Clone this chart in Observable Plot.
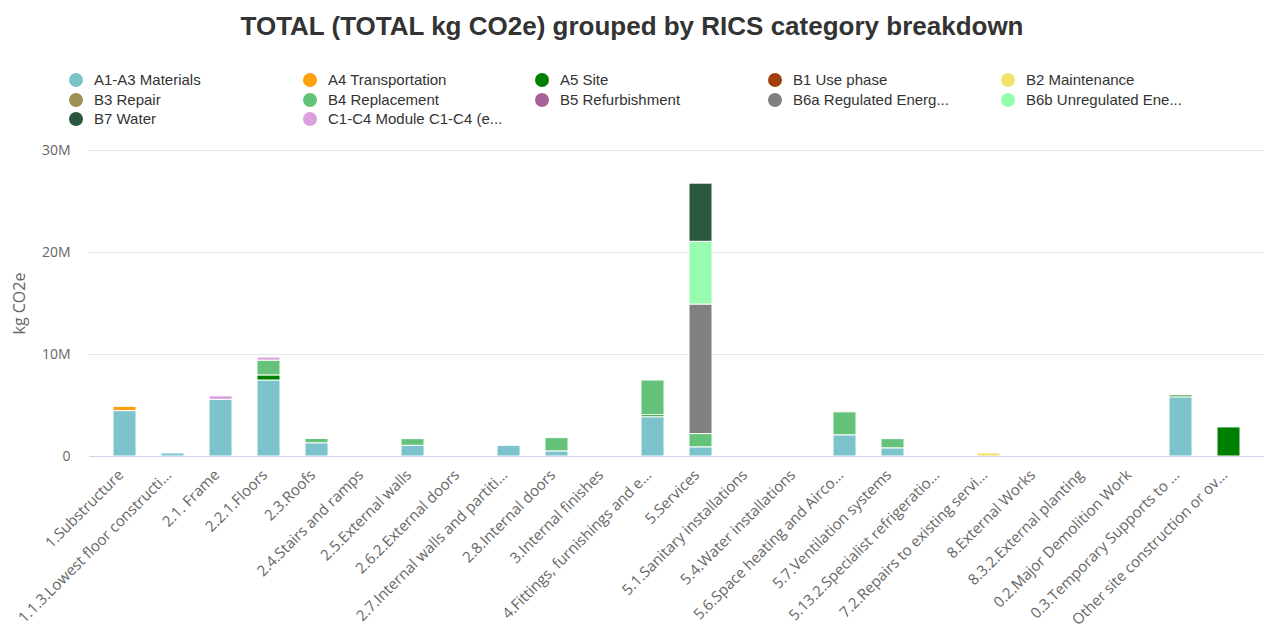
<!DOCTYPE html>
<html>
<head>
<meta charset="utf-8">
<script src="https://cdn.jsdelivr.net/npm/d3@7"></script>
<script src="https://cdn.jsdelivr.net/npm/@observablehq/plot@0.6"></script>
<style>
  html, body { margin: 0; padding: 0; background: #fff; }
  #title { height: 52px; font: bold 26px "Liberation Sans", Arial, sans-serif; line-height: 52px; text-align: center; color: #333; }
  #legend { position: relative; height: 88px; font: 15px "Liberation Sans", Arial, sans-serif; color: #333; }
  .item { position: absolute; height: 20px; line-height: 20px; white-space: nowrap; }
  .dot { position: absolute; left: 0; top: 3px; width: 14px; height: 14px; border-radius: 50%; }
  .lbl { position: absolute; left: 25px; top: 0; }
  svg { display: block; }
</style>
</head>
<body>
<div id="title">TOTAL (TOTAL kg CO2e) grouped by RICS category breakdown</div>
<div id="legend"></div>
<div id="chart"></div>
<script>
const categories = [
  "1.Substructure", "1.1.3.Lowest floor constructi...", "2.1. Frame", "2.2.1.Floors", "2.3.Roofs",
  "2.4.Stairs and ramps", "2.5.External walls", "2.6.2.External doors", "2.7.Internal walls and partiti...",
  "2.8.Internal doors", "3.Internal finishes", "4.Fittings, furnishings and e...", "5.Services",
  "5.1.Sanitary installations", "5.4.Water installations", "5.6.Space heating and Airco...",
  "5.7.Ventilation systems", "5.13.2.Specialist refrigeratio...", "7.2.Repairs to existing servi...",
  "8.External Works", "8.3.2.External planting", "0.2.Major Demolition Work",
  "0.3.Temporary Supports to ...", "Other site construction or ov..."
];

const seriesNames = [
  "A1-A3 Materials", "A4 Transportation", "A5 Site", "B1 Use phase", "B2 Maintenance",
  "B3 Repair", "B4 Replacement", "B5 Refurbishment", "B6a Regulated Energ...",
  "B6b Unregulated Ene...", "B7 Water", "C1-C4 Module C1-C4 (e..."
];

const seriesColors = [
  "#7cc3cc", "#ffa00f", "#008000", "#a0410d", "#efe36a",
  "#9c9150", "#65c27a", "#a8609b", "#808080",
  "#98fcb0", "#2b5741", "#dca0de"
];

// values in kg CO2e, one per category
const a1a3Materials   = [4450000, 300000, 5550000, 7450000, 1300000, 0, 1050000, 0, 1050000, 500000, 0, 3850000, 900000, 0, 0, 2080000, 800000, 0, 0, 0, 0, 0, 5800000, 0];
const a4Transport     = [420000, 0, 0, 0, 0, 0, 0, 0, 0, 0, 0, 0, 0, 0, 0, 0, 0, 0, 0, 0, 0, 0, 0, 0];
const a5Site          = [0, 0, 0, 500000, 0, 0, 0, 0, 0, 0, 0, 200000, 0, 0, 0, 0, 0, 0, 0, 0, 0, 0, 180000, 2850000];
const b1UsePhase      = [0, 0, 0, 0, 0, 0, 0, 0, 0, 0, 0, 0, 0, 0, 0, 0, 0, 0, 0, 0, 0, 0, 0, 0];
const b2Maintenance   = [0, 0, 0, 0, 0, 0, 0, 0, 0, 0, 0, 0, 0, 0, 0, 0, 0, 0, 300000, 0, 0, 0, 0, 0];
const b3Repair        = [0, 0, 0, 0, 0, 0, 0, 0, 0, 0, 0, 0, 0, 0, 0, 0, 0, 0, 0, 0, 0, 0, 0, 0];
const b4Replacement   = [0, 0, 0, 1450000, 420000, 0, 650000, 0, 0, 1300000, 0, 3400000, 1300000, 0, 0, 2250000, 900000, 0, 0, 0, 0, 0, 0, 0];
const b5Refurbishment = [0, 0, 0, 0, 0, 0, 0, 0, 0, 0, 0, 0, 0, 0, 0, 0, 0, 0, 0, 0, 0, 0, 0, 0];
const b6aRegulated    = [0, 0, 0, 0, 0, 0, 0, 0, 0, 0, 0, 0, 12700000, 0, 0, 0, 0, 0, 0, 0, 0, 0, 0, 0];
const b6bUnregulated  = [0, 0, 0, 0, 0, 0, 0, 0, 0, 0, 0, 0, 6150000, 0, 0, 0, 0, 0, 0, 0, 0, 0, 0, 0];
const b7Water         = [0, 0, 0, 0, 0, 0, 0, 0, 0, 0, 0, 0, 5700000, 0, 0, 0, 0, 0, 0, 0, 0, 0, 0, 0];
const c1c4Module      = [0, 0, 350000, 300000, 0, 0, 0, 0, 0, 0, 0, 0, 0, 0, 0, 0, 0, 0, 0, 0, 0, 0, 0, 0];

const yTicks = [0, 10000000, 20000000, 30000000];

const seriesValues = [a1a3Materials, a4Transport, a5Site, b1UsePhase, b2Maintenance, b3Repair,
  b4Replacement, b5Refurbishment, b6aRegulated, b6bUnregulated, b7Water, c1c4Module];

const data = [];
seriesNames.forEach((s, si) => {
  categories.forEach((c, ci) => {
    const v = seriesValues[si][ci];
    if (v > 0) data.push({category: c, series: s, value: v});
  });
});

// legend
const legend = document.getElementById("legend");
const colLeft = [69, 303, 535, 768, 1001];
const rowTop = [18, 38, 57];
seriesNames.forEach((s, i) => {
  const item = document.createElement("div");
  item.className = "item";
  item.style.left = colLeft[i % 5] + "px";
  item.style.top = rowTop[Math.floor(i / 5)] + "px";
  const dot = document.createElement("span");
  dot.className = "dot";
  dot.style.background = seriesColors[i];
  const lbl = document.createElement("span");
  lbl.className = "lbl";
  lbl.textContent = s;
  item.appendChild(dot);
  item.appendChild(lbl);
  legend.appendChild(item);
});

const chart = Plot.plot({
  width: 1264,
  height: 488,
  marginTop: 10,
  marginBottom: 172,
  marginLeft: 89,
  marginRight: 0,
  style: {fontFamily: "'Open Sans', sans-serif", fontSize: "14px", color: "#666", background: "#fff"},
  x: {domain: categories, paddingInner: 0.53, paddingOuter: 0.265},
  y: {domain: [0, 30000000]},
  color: {domain: seriesNames, range: seriesColors},
  marks: [
    Plot.gridY(yTicks, {stroke: "#e6e6e6", strokeOpacity: 1}),
    Plot.axisY({ticks: yTicks, tickFormat: d3.format("~s"), tickSize: 0, tickPadding: 19,
      label: null, fontSize: 14}),
    Plot.text(["kg CO2e"], {frameAnchor: "left", textAnchor: "middle", dx: -70, rotate: -90, fontSize: 16, fill: "#666"}),
    Plot.axisX({tickRotate: -45, tickSize: 0, tickPadding: 16, dx: -4, label: null, fontSize: 15}),
    Plot.barY(data, {x: "category", y: "value", fill: "series", order: seriesNames, stroke: "white", strokeWidth: 1}),
    Plot.ruleY([0], {stroke: "#ccd6eb"})
  ]
});
document.getElementById("chart").appendChild(chart);
</script>
</body>
</html>
